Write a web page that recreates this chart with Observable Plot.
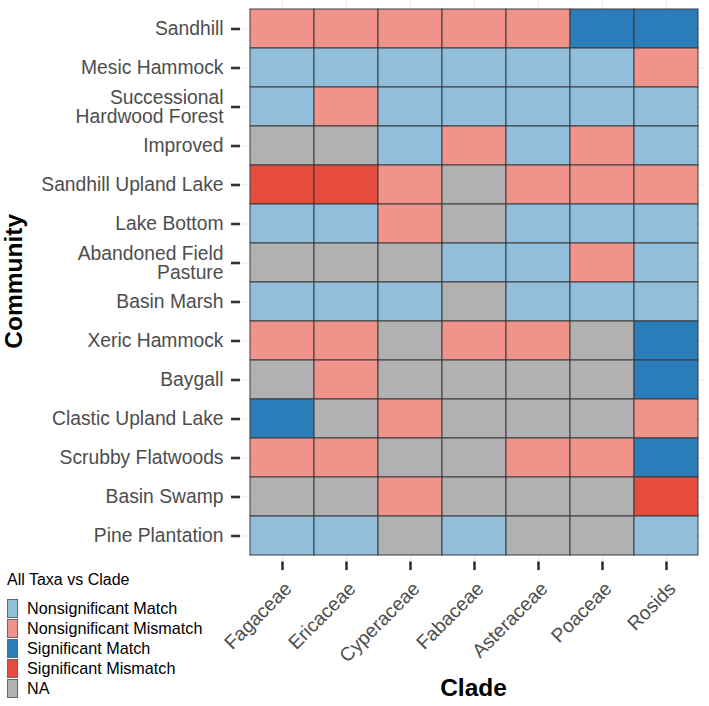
<!DOCTYPE html>
<html>
<head>
<meta charset="utf-8">
<script src="https://cdn.jsdelivr.net/npm/d3@7"></script>
<script src="https://cdn.jsdelivr.net/npm/@observablehq/plot@0.6"></script>
<style>
  html, body { margin: 0; padding: 0; background: #fff; }
  #wrap { position: relative; width: 709px; height: 706px; font-family: 'Liberation Sans', Arial, sans-serif; }
  #legend { position: absolute; left: 7px; top: 570px; color: #000; }
  #legend .title { font-size: 16px; height: 28px; line-height: 20px; }
  #legend .row { display: flex; align-items: center; height: 20px; }
  #legend .key { width: 11px; height: 19px; border: 0.8px solid #666; box-sizing: border-box; margin-right: 9px; }
  #legend .lab { font-size: 16.2px; }
</style>
</head>
<body>
<div id="wrap"><div id="chart"></div><div id="legend"></div></div>
<script>
const clades = ["Fagaceae", "Ericaceae", "Cyperaceae", "Fabaceae", "Asteraceae", "Poaceae", "Rosids"];
const communities = [
  "Sandhill", "Mesic Hammock", "Successional Hardwood Forest", "Improved",
  "Sandhill Upland Lake", "Lake Bottom", "Abandoned Field Pasture", "Basin Marsh",
  "Xeric Hammock", "Baygall", "Clastic Upland Lake", "Scrubby Flatwoods",
  "Basin Swamp", "Pine Plantation"
];
const communityLabels = {
  "Successional Hardwood Forest": "Successional\nHardwood Forest",
  "Abandoned Field Pasture": "Abandoned Field\nPasture"
};
const statuses = ["Nonsignificant Match", "Nonsignificant Mismatch", "Significant Match", "Significant Mismatch", "NA"];
const statusColors = ["#92bedc", "#f0938a", "#2a7db9", "#e64b3b", "#b1b1b1"];
// codes: M = Nonsignificant Match, X = Nonsignificant Mismatch, SM = Significant Match, SX = Significant Mismatch, NA
const codes = { M: "Nonsignificant Match", X: "Nonsignificant Mismatch", SM: "Significant Match", SX: "Significant Mismatch", NA: "NA" };
const grid = [
  ["X", "X", "X", "X", "X", "SM", "SM"],
  ["M", "M", "M", "M", "M", "M", "X"],
  ["M", "X", "M", "M", "M", "M", "M"],
  ["NA", "NA", "M", "X", "M", "X", "M"],
  ["SX", "SX", "X", "NA", "X", "X", "X"],
  ["M", "M", "X", "NA", "M", "M", "M"],
  ["NA", "NA", "NA", "M", "M", "X", "M"],
  ["M", "M", "M", "NA", "M", "M", "M"],
  ["X", "X", "NA", "X", "X", "NA", "SM"],
  ["NA", "X", "NA", "NA", "NA", "NA", "SM"],
  ["SM", "NA", "X", "NA", "NA", "NA", "X"],
  ["X", "X", "NA", "NA", "X", "X", "SM"],
  ["NA", "NA", "X", "NA", "NA", "NA", "SX"],
  ["M", "M", "NA", "M", "NA", "NA", "M"]
];

const data = [];
communities.forEach((c, i) => clades.forEach((k, j) => data.push({community: c, clade: k, status: codes[grid[i][j]]})));

const chart = Plot.plot({
  width: 709,
  height: 706,
  marginLeft: 240,
  marginRight: 5,
  marginTop: 0,
  marginBottom: 144.5,
  style: {fontFamily: "'Liberation Sans', Arial, sans-serif", fontSize: "19px", background: "white"},
  x: {domain: clades, padding: 0, insetLeft: 6.7, insetRight: 3.3, label: null},
  y: {domain: communities, padding: 0, insetTop: 5, insetBottom: 3.2, label: null},
  color: {domain: statuses, range: statusColors},
  marks: [
    Plot.gridX({stroke: "#ebebeb", strokeOpacity: 1, strokeWidth: 1.2}),
    Plot.gridY({stroke: "#ebebeb", strokeOpacity: 1, strokeWidth: 1.2}),
    Plot.cell(data, {x: "clade", y: "community", fill: "status", stroke: "#3a3a3a", strokeWidth: 1}),
    Plot.axisX({tickSize: 8.5, tickFormat: () => "", stroke: "#333", strokeWidth: 2.6, label: null}),
    Plot.axisX({tickSize: 0, tickPadding: 23.5, dx: 6, tickRotate: -45, fill: "#4d4d4d", fontSize: 19.3, label: null}),
    Plot.axisY({tickSize: 9, tickPadding: 8, stroke: "#333", fill: "#4d4d4d", strokeWidth: 2.6, fontSize: 19.3, label: null,
      tickFormat: d => communityLabels[d] ?? d}),
    Plot.text(["Clade"], {frameAnchor: "bottom", text: d => d, textAnchor: "middle", lineAnchor: "bottom", dy: 133.5, dx: 1, fontWeight: "bold", fontSize: 24.5, fill: "#000"}),
    Plot.text(["Community"], {frameAnchor: "left", text: d => d, textAnchor: "middle", rotate: -90, lineAnchor: "bottom", dx: -219, fontWeight: "bold", fontSize: 24.5, fill: "#000"})
  ]
});
document.getElementById("chart").append(chart);

const legend = document.getElementById("legend");
const t = document.createElement("div");
t.className = "title";
t.textContent = "All Taxa vs Clade";
legend.append(t);
statuses.forEach((s, i) => {
  const r = document.createElement("div");
  r.className = "row";
  const k = document.createElement("div");
  k.className = "key";
  k.style.background = statusColors[i];
  const l = document.createElement("div");
  l.className = "lab";
  l.textContent = s;
  r.append(k, l);
  legend.append(r);
});
</script>
</body>
</html>
